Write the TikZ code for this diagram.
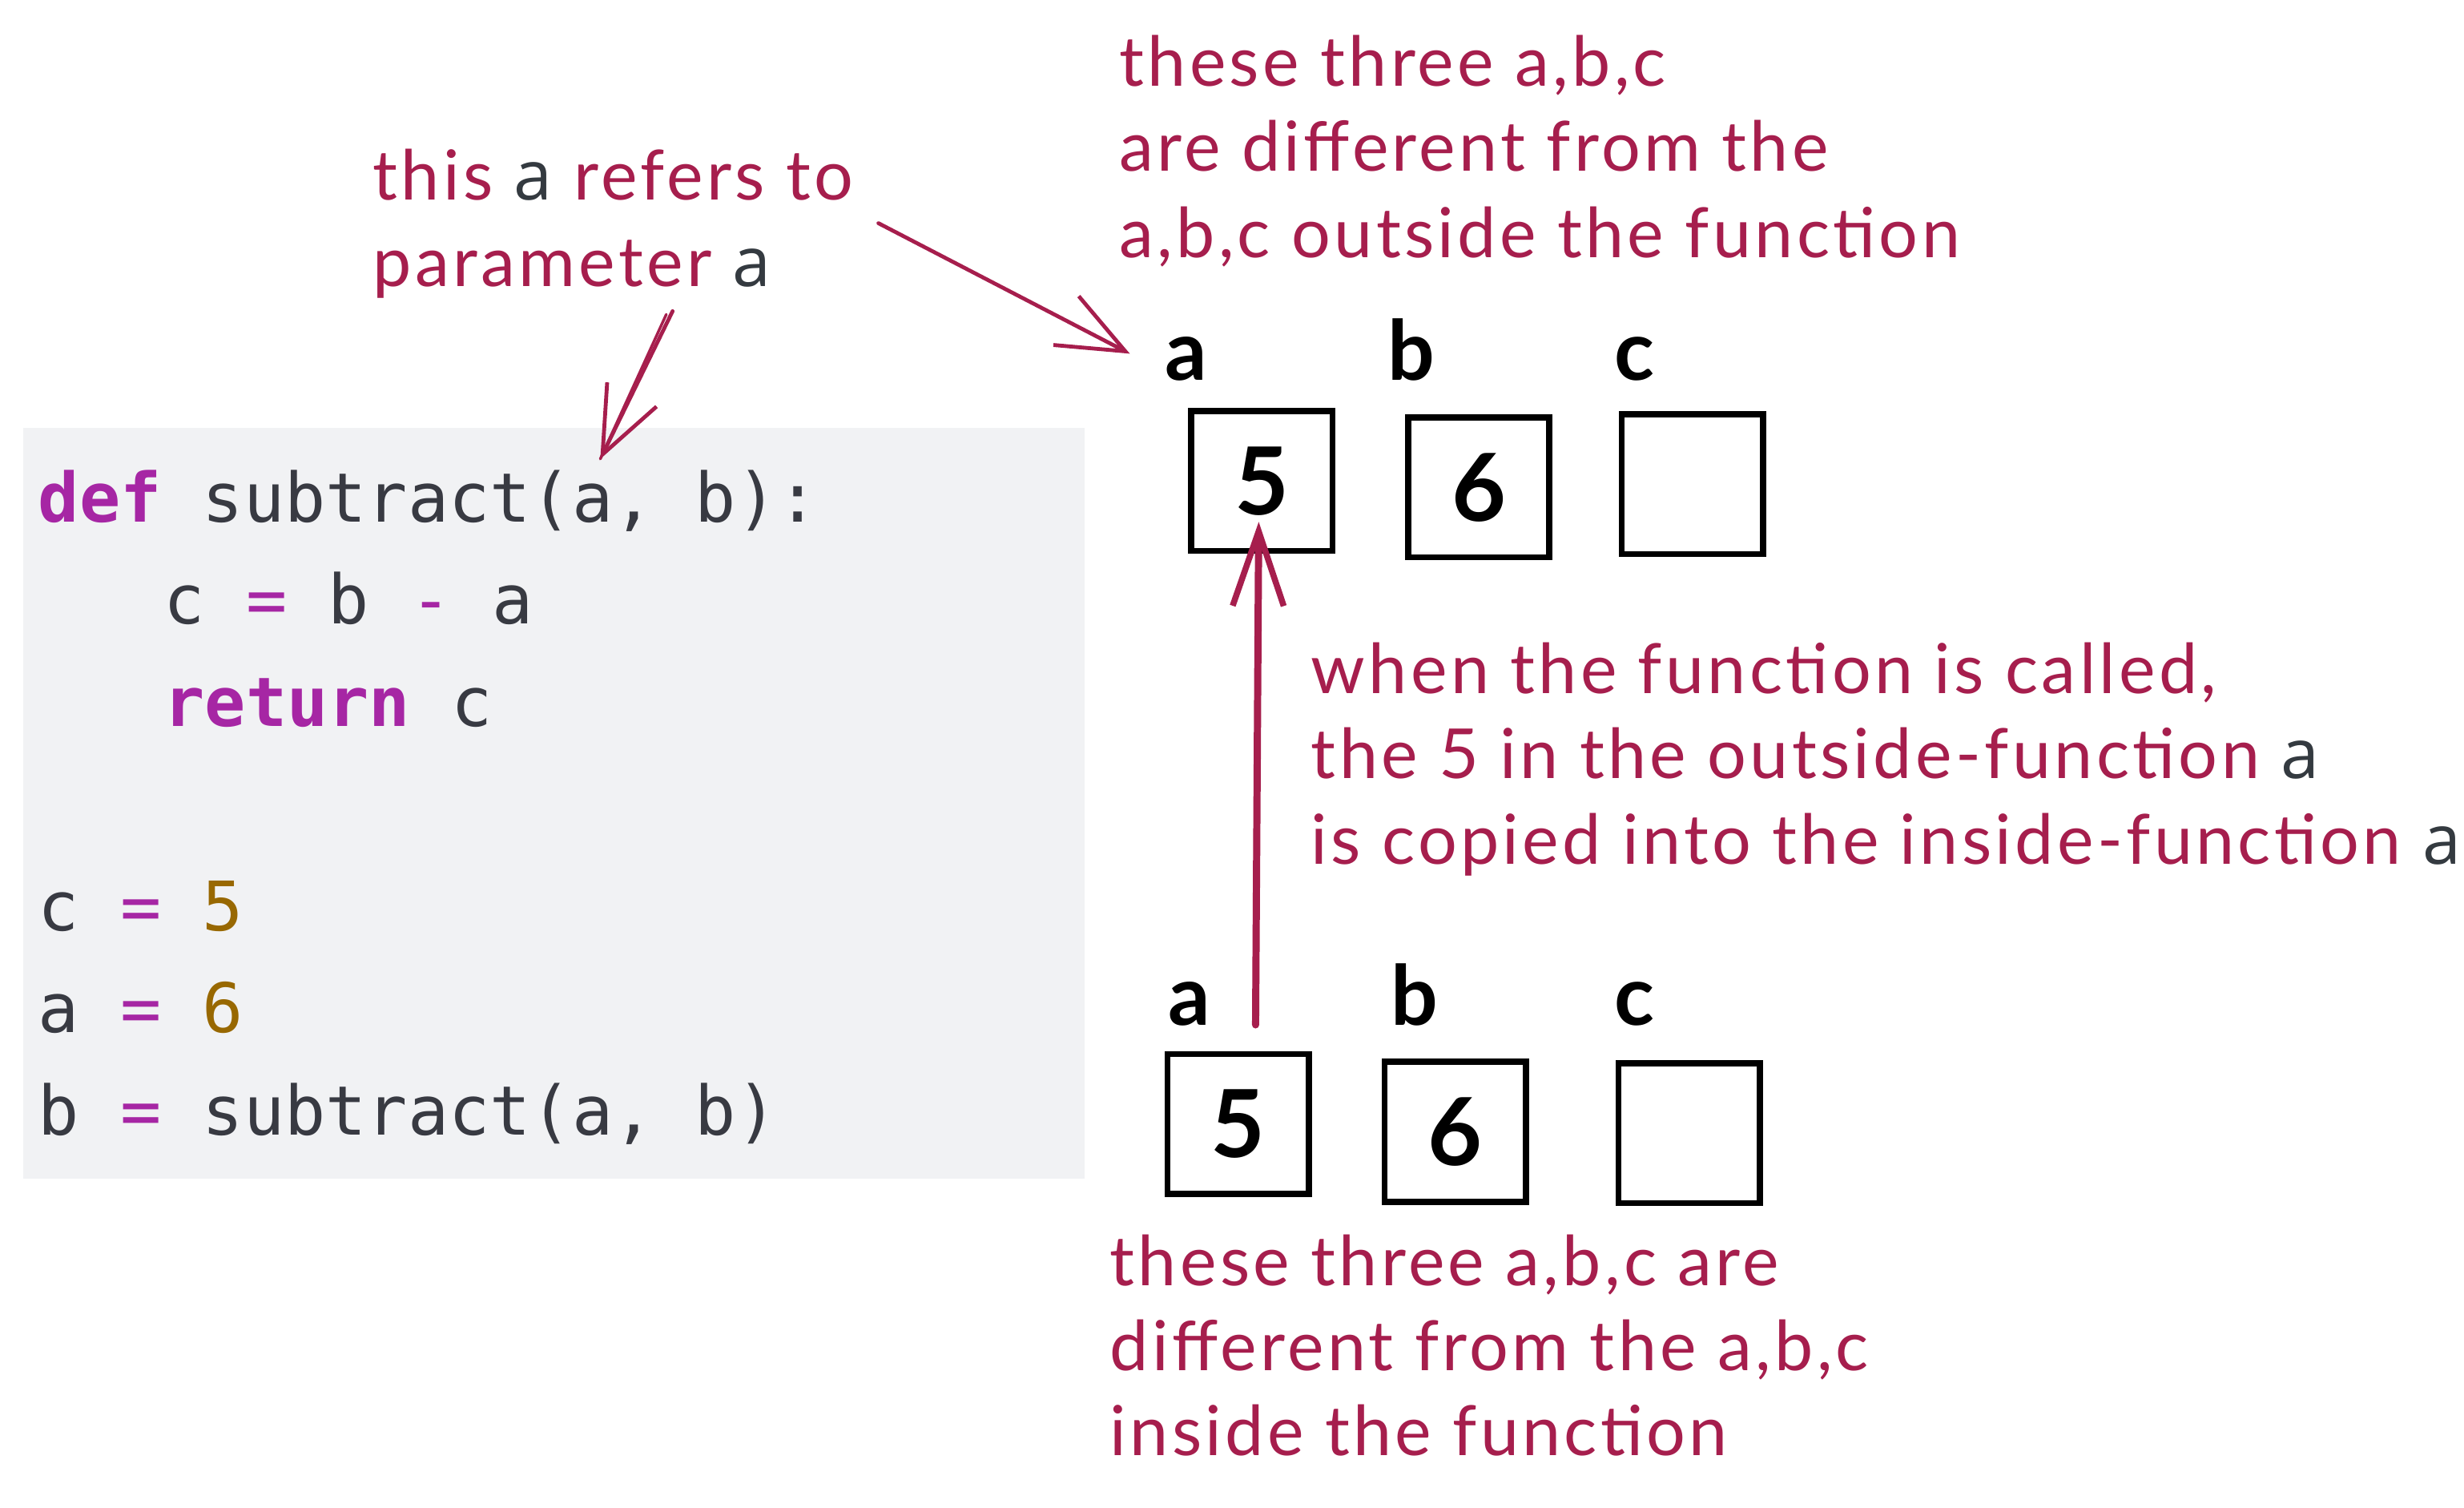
\documentclass[tikz,border=0pt]{standalone}
\usepackage{fontspec}
\setmainfont{Lato}
\newfontfamily\handfont[LetterSpace=5]{Lato}
\newfontfamily\codefont{DejaVu Sans Mono}
\newfontfamily\plainfont{Open Sans}
\usetikzlibrary{positioning}
\usetikzlibrary{calc,arrows.meta}

\definecolor{ink}{HTML}{A61E4D}
\definecolor{codebg}{HTML}{F1F2F4}
\definecolor{codetext}{HTML}{383A42}
\definecolor{codekw}{HTML}{A626A4}
\definecolor{codenum}{HTML}{986801}
\definecolor{darka}{HTML}{343A40}

\newcommand{\kw}[1]{{\bfseries\color{codekw}#1}}
\newcommand{\op}[1]{{\color{codekw}#1}}
\newcommand{\num}[1]{{\color{codenum}#1}}
\newcommand{\plaina}{{\plainfont\color{darka}a}}

\tikzset{
  note/.style={ink, font=\handfont\fontsize{25}{31}\selectfont, anchor=base west, inner sep=0pt},
  varname/.style={font=\bfseries\fontsize{30}{30}\selectfont, anchor=base, inner sep=0pt},
  cell/.style={draw, line width=2.2pt, minimum width=1.8cm, minimum height=1.78cm, inner sep=0pt, font=\bfseries\fontsize{34}{34}\selectfont},
  codeline/.style={codetext, font=\codefont\fontsize{24.7}{24.7}\selectfont, anchor=base west, inner sep=0pt},
  pointer/.style={ink, line width=1.4pt, line cap=round, -{Straight Barb[length=0.85cm, width=0.7cm, line width=1.4pt]}},
}

\begin{document}
\begin{tikzpicture}[x=0.02cm, y=-0.02cm]
    \useasboundingbox (0,0) rectangle (1568,959);

    % code panel
    \fill[codebg] (15,272) rectangle (690,750);
    \node[codeline] (code1) at (24,332) {\kw{def} subtract(a, b):};
    \node[codeline] (code2) at (104,397) {c \op{=} b \op{-} a};
    \node[codeline] (code3) at (104,462) {\kw{return} c};
    \node[codeline] (code4) at (24,592) {c \op{=} \num{5}};
    \node[codeline] (code5) at (24,657) {a \op{=} \num{6}};
    \node[codeline] (code6) at (24,722) {b \op{=} subtract(a, b)};

    % notes
    \node[note] (param1) at (237,127) {this \plaina{} refers to};
    \node[note] (param2) at (237,182) {parameter \plaina};

    \node[note] (inner1) at (712,55) {these three a,b,c};
    \node[note] (inner2) at (712,109) {are different from the};
    \node[note] (inner3) at (712,164) {a,b,c outside the function};

    \node[note] (call1) at (834,441) {when the function is called,};
    \node[note] (call2) at (834,495) {the 5 in the outside-function \plaina};
    \node[note] (call3) at (834,550) {is copied into the inside-function \plaina};

    \node[note] (outer1) at (706,818) {these three a,b,c are};
    \node[note] (outer2) at (706,872) {different from the a,b,c};
    \node[note] (outer3) at (706,926) {inside the function};

    % inside-function variables
    \node[varname] (ina) at (755,242) {a};
    \node[varname] (inb) at (898,242) {b};
    \node[varname] (inc) at (1040,242) {c};
    \node[cell] (cella) at (803,306) {5};
    \node[cell] (cellb) at (941,310) {6};
    \node[cell] (cellc) at (1077,308) {};

    % outside-function variables
    \node[varname] (outa) at (757,652) {a};
    \node[varname] (outb) at (900,652) {b};
    \node[varname] (outc) at (1040,652) {c};
    \node[cell] (boxa) at (788,715) {5};
    \node[cell] (boxb) at (926,720) {6};
    \node[cell] (boxc) at (1075,721) {};

    % arrows
    \coordinate (paramstart) at (428,198);
    \coordinate (paramtip) at (382,292);
    \draw[pointer] (paramstart) -- (paramtip);
    \draw[ink, line width=1pt, line cap=round] ($(paramstart)+(-4,2)$) -- (paramtip);

    \coordinate (refstart) at (559,142);
    \coordinate (reftip) at (719,225);
    \draw[pointer] (refstart) -- (reftip);

    \coordinate (copystart) at (799,652);
    \coordinate (copytip) at (801,332);
    \draw[ink, line width=2.6pt, line cap=round, -{Straight Barb[length=0.95cm, width=0.65cm, line width=2.2pt]}] (copystart) -- (copytip);
\end{tikzpicture}
\end{document}
